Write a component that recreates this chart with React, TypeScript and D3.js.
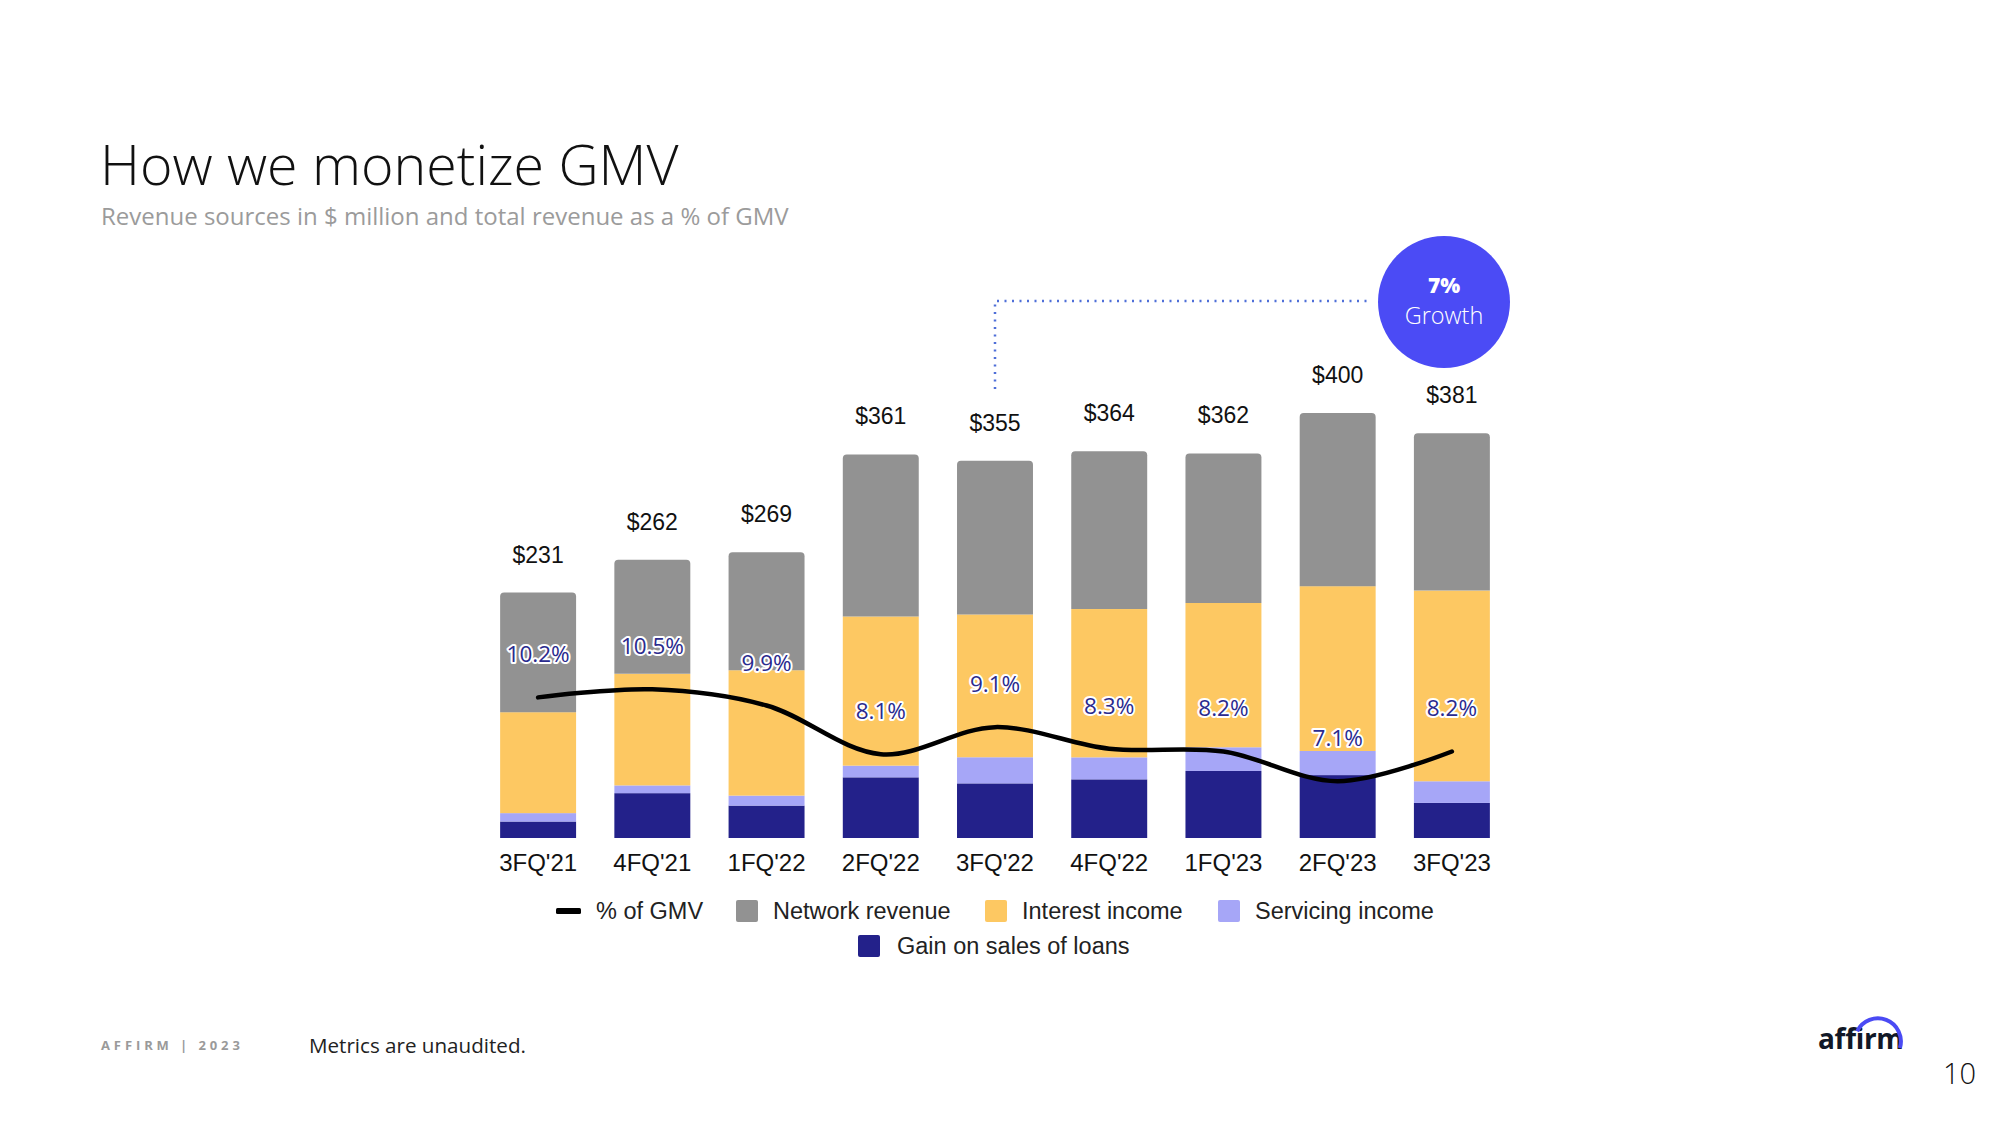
import React from "react";
import * as d3 from "d3";

const categories = ["3FQ'21", "4FQ'21", "1FQ'22", "2FQ'22", "3FQ'22", "4FQ'22", "1FQ'23", "2FQ'23", "3FQ'23"];
const networkRevenue = [112.7, 107.5, 111, 152.5, 144.6, 148.4, 140.8, 163, 148.1];
const interestIncome = [95, 105, 118, 140.4, 134.4, 139.6, 135.8, 155.1, 179.5];
const servicingIncome = [7.9, 7.3, 9.4, 11, 24.6, 20.7, 22.3, 22.7, 20.4];
const gainOnSales = [15.5, 42.2, 30.5, 57.1, 51.4, 55.2, 63.1, 59.2, 33];
const totals = [231, 262, 269, 361, 355, 364, 362, 400, 381];
const pctOfGMV = [10.2, 10.5, 9.9, 8.1, 9.1, 8.3, 8.2, 7.1, 8.2];

const seriesKeys = ["gain", "servicing", "interest", "network"];
const seriesColors: Record<string, string> = {
  network: "#929292",
  interest: "#fdc862",
  servicing: "#a6a6f7",
  gain: "#23218a",
};
const legendRow1 = [
  { label: "% of GMV", key: "line" },
  { label: "Network revenue", key: "network" },
  { label: "Interest income", key: "interest" },
  { label: "Servicing income", key: "servicing" },
];
const legendRow2 = [{ label: "Gain on sales of loans", key: "gain" }];

const ARIAL = "'Liberation Sans', Arial, sans-serif";
const OPEN = "'Open Sans', 'Noto Sans', sans-serif";

export default function App() {
  const baseline = 838;
  const x = d3.scaleBand<string>().domain(categories).range([481, 1509]).paddingInner(0.335).paddingOuter(0.1675);
  const y = d3.scaleLinear().domain([0, 400]).range([baseline, baseline - 425]);
  const y2 = d3.scaleLinear().domain([5, 12]).range([baseline, baseline - 7 * 27.04]);

  const rows = categories.map((c, i) => ({
    cat: c,
    network: networkRevenue[i],
    interest: interestIncome[i],
    servicing: servicingIncome[i],
    gain: gainOnSales[i],
  }));
  const stacked = d3.stack<any>().keys(seriesKeys)(rows);
  const bw = x.bandwidth();
  const cx = (c: string) => (x(c) as number) + bw / 2;

  const line = d3
    .line<number>()
    .x((_, i) => cx(categories[i]))
    .y((v) => y2(v))
    .curve(d3.curveCatmullRom.alpha(0.5));

  const roundedTop = (x0: number, y0: number, w: number, h: number, r: number) =>
    `M${x0},${y0 + h}V${y0 + r}Q${x0},${y0} ${x0 + r},${y0}H${x0 + w - r}Q${x0 + w},${y0} ${x0 + w},${y0 + r}V${y0 + h}Z`;

  const growthX = cx(categories[4]);

  const legendItems1X = [556, 736, 985, 1218];
  return (
    <svg
      width={2000}
      height={1125}
      style={{ position: "absolute", left: 0, top: 0, background: "#fff" }}
      xmlns="http://www.w3.org/2000/svg"
    >
      <rect x={0} y={0} width={2000} height={1125} fill="#fff" />
      <text x={100} y={185} fontFamily={OPEN} fontWeight={300} fontSize={55.5} fill="#111">
        How we monetize GMV
      </text>
      <text x={101} y={225} fontFamily={OPEN} fontSize={24} fill="#9b9b9b">
        Revenue sources in $ million and total revenue as a % of GMV
      </text>

      {stacked.map((s) =>
        s.map((d, i) => {
          const x0 = x(categories[i]) as number;
          const yTop = y(d[1]);
          const h = y(d[0]) - y(d[1]);
          if (s.key === "network") {
            return <path key={s.key + i} d={roundedTop(x0, yTop, bw, h, 4)} fill={seriesColors[s.key]} />;
          }
          return <rect key={s.key + i} x={x0} y={yTop} width={bw} height={h} fill={seriesColors[s.key]} />;
        })
      )}

      {totals.map((t, i) => (
        <text
          key={"t" + i}
          x={cx(categories[i])}
          y={y(t) - 30}
          textAnchor="middle"
          fontFamily={ARIAL}
          fontSize={23}
          fill="#111"
        >
          ${t}
        </text>
      ))}

      {categories.map((c) => (
        <text key={"c" + c} x={cx(c)} y={871} textAnchor="middle" fontFamily={ARIAL} fontSize={24} fill="#111">
          {c}
        </text>
      ))}

      <path d={line(pctOfGMV) || ""} fill="none" stroke="#000" strokeWidth={4.5} strokeLinecap="round" />
      {pctOfGMV.map((v, i) => (
        <text
          key={"p" + i}
          x={cx(categories[i])}
          y={y2(v) - 35}
          textAnchor="middle"
          fontFamily={OPEN}
          fontSize={22.5}
          fill="#2a2a8e"
          stroke="#fff"
          strokeWidth={4}
          strokeLinejoin="round"
          style={{ paintOrder: "stroke" }}
        >
          {v.toFixed(1)}%
        </text>
      ))}

      <path
        d={`M${growthX},${389}V${301}H${1372}`}
        fill="none"
        stroke="#4f6fd8"
        strokeWidth={2.5}
        strokeDasharray="2 5.5"
      />
      <circle cx={1444} cy={302} r={66} fill="#4b4bf5" />
      <text x={1444} y={293} textAnchor="middle" fontFamily={OPEN} fontWeight={800} fontSize={21} fill="#fff">
        7%
      </text>
      <text x={1444} y={324} textAnchor="middle" fontFamily={OPEN} fontWeight={300} fontSize={23.5} fill="#fff">
        Growth
      </text>

      {legendRow1.map((item, i) => {
        const lx = legendItems1X[i];
        if (item.key === "line") {
          return (
            <g key={item.key}>
              <rect x={lx} y={908} width={25} height={6} rx={1.5} fill="#000" />
              <text x={596} y={919} fontFamily={ARIAL} fontSize={23.5} fill="#222">
                {item.label}
              </text>
            </g>
          );
        }
        return (
          <g key={item.key}>
            <rect x={lx} y={900} width={22} height={22} rx={2} fill={seriesColors[item.key]} />
            <text x={lx + 37} y={919} fontFamily={ARIAL} fontSize={23.5} fill="#222">
              {item.label}
            </text>
          </g>
        );
      })}
      {legendRow2.map((item) => (
        <g key={item.key}>
          <rect x={858} y={935} width={22} height={22} rx={2} fill={seriesColors[item.key]} />
          <text x={897} y={954} fontFamily={ARIAL} fontSize={23.5} fill="#222">
            {item.label}
          </text>
        </g>
      ))}

      <text x={101} y={1050} fontFamily={OPEN} fontWeight={700} fontSize={13} letterSpacing={3.9} fill="#9a9a9a">
        AFFIRM | 2023
      </text>
      <text x={309} y={1053} fontFamily={OPEN} fontSize={20.6} fill="#222">
        Metrics are unaudited.
      </text>
      <text x={1818} y={1049} fontFamily={OPEN} fontWeight={700} fontSize={28} fill="#111827" letterSpacing={-0.3}>
        affirm
      </text>
      <path d="M1857.2,1031.3 A23,23 0 0 1 1899.9,1048" fill="none" stroke="#4a4af4" strokeWidth={4} />
      <text x={1943} y={1084} fontFamily={OPEN} fontWeight={300} fontSize={29} fill="#111">
        10
      </text>
    </svg>
  );
}
